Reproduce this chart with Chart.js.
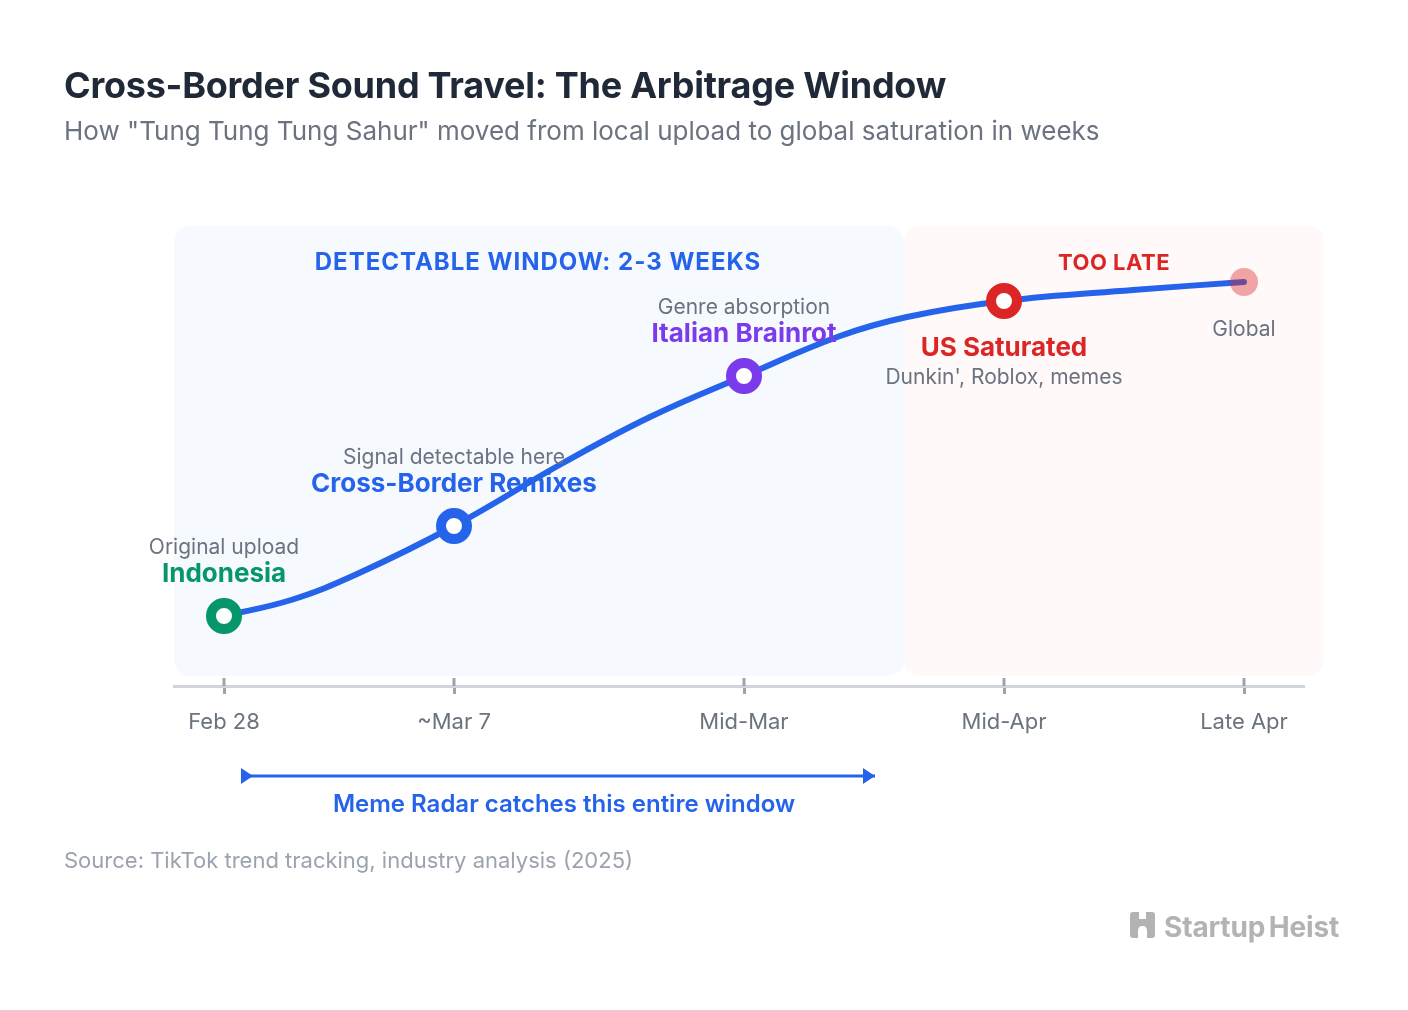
<!DOCTYPE html>
<html>
<head>
<meta charset="utf-8">
<title>Cross-Border Sound Travel</title>
<script src="https://cdn.jsdelivr.net/npm/chart.js@4/dist/chart.umd.js"></script>
<style>
    html, body { margin: 0; padding: 0; background: #fff; }
    body { width: 1408px; height: 1010px; position: relative; overflow: hidden; font-family: Inter, sans-serif; }
    canvas { position: absolute; left: 0; top: 0; }
    .txt { position: absolute; white-space: nowrap; line-height: 1; }
    #title { left: 64px; top: 67px; font-size: 36px; font-weight: 700; color: #1f2937; letter-spacing: -0.25px; }
    #subtitle { left: 64px; top: 118px; font-size: 26px; color: #6b7280; }
    #source { left: 64px; top: 849px; font-size: 22px; color: #9ca3af; }
    #brand { left: 1164px; top: 913px; font-size: 28px; font-weight: 700; color: #b3b3b3; word-spacing: -3px; letter-spacing: -0.15px; }
    #logo { position: absolute; left: 1130px; top: 912px; }
</style>
</head>
<body>
<canvas id="chart" width="1408" height="1010"></canvas>
<div class="txt" id="title">Cross-Border Sound Travel: The Arbitrage Window</div>
<div class="txt" id="subtitle">How "Tung Tung Tung Sahur" moved from local upload to global saturation in weeks</div>
<div class="txt" id="source">Source: TikTok trend tracking, industry analysis (2025)</div>
<svg id="logo" width="25" height="26" viewBox="0 0 25 26">
    <path fill="#b3b3b3" d="M3 0H9V7H16V0H22Q25 0 25 3V23Q25 26 22 26H17V19Q17 14 12.5 14Q8 14 8 19V26H3Q0 26 0 23V3Q0 0 3 0Z"/>
</svg>
<div class="txt" id="brand">Startup Heist</div>

<script>
// Dữ liệu
const tickValues = [5, 28, 57, 83, 107];
const tickLabels = ['Feb 28', '~Mar 7', 'Mid-Mar', 'Mid-Apr', 'Late Apr'];
const spreadValues = [7, 16, 31, 38.5, 40.4];
const curveX = [5, 11.7, 18.3, 28, 38.9, 47.6, 57, 66.6, 73.3, 83, 95.9, 107];
const curveY = [7, 8.6, 11.2, 16, 22.3, 26.9, 31, 35, 36.9, 38.5, 39.6, 40.4];
const mainLabels = ['Indonesia', 'Cross-Border Remixes', 'Italian Brainrot', 'US Saturated', ''];
const subLabels = ['Original upload', 'Signal detectable here', 'Genre absorption', "Dunkin', Roblox, memes", 'Global'];
const detectableRange = [0, 73];
const tooLateRange = [73, 115];
const regionLevels = [1, 46];
const arrowRange = [6.8, 70.1];
const arrowLevel = -9;
const detectableText = 'DETECTABLE WINDOW: 2-3 WEEKS';
const tooLateText = 'TOO LATE';
const arrowText = 'Meme Radar catches this entire window';

// Kiểu hiển thị
const markColors = ['#059669', '#2563eb', '#7c3aed', '#dc2626', 'rgba(220, 38, 38, 0.4)'];
const mainOffsets = [-42, -42, -42, 47, 0];
const subOffsets = [-68, -68, -68, 77, 48];
const FONT = 'Inter, sans-serif';

function label(ctx, text, x, y, font, color, spacing) {
    ctx.font = font;
    ctx.fillStyle = color;
    ctx.textAlign = 'center';
    ctx.textBaseline = 'middle';
    ctx.letterSpacing = spacing || '0px';
    ctx.fillText(text, x, y);
    ctx.letterSpacing = '0px';
}

function region(chart, range, color) {
    const { ctx, scales: { x, y } } = chart;
    const left = x.getPixelForValue(range[0]);
    const right = x.getPixelForValue(range[1]);
    const top = y.getPixelForValue(regionLevels[1]);
    const bottom = y.getPixelForValue(regionLevels[0]);
    ctx.fillStyle = color;
    ctx.beginPath();
    ctx.roundRect(left, top, right - left, bottom - top, 16);
    ctx.fill();
}

const windowPlugin = {
    id: 'windowPlugin',
    beforeDatasetsDraw(chart) {
        region(chart, tooLateRange, '#fff9f9');
        region(chart, detectableRange, '#f6faff');

        // Nửa trên của vạch chia trục
        const { ctx, scales: { x }, chartArea } = chart;
        ctx.save();
        ctx.strokeStyle = '#9ca3af';
        ctx.lineWidth = 3;
        tickValues.forEach(v => {
            const px = x.getPixelForValue(v);
            ctx.beginPath();
            ctx.moveTo(px, chartArea.bottom - 8);
            ctx.lineTo(px, chartArea.bottom);
            ctx.stroke();
        });
        ctx.restore();

        label(ctx, detectableText, 538, 263, '700 24px ' + FONT, '#2563eb', '1px');
        label(ctx, tooLateText, 1114, 263, '700 22px ' + FONT, '#dc2626', '0.5px');
    },
    afterDatasetsDraw(chart) {
        const { ctx, scales: { x, y } } = chart;
        const meta = chart.getDatasetMeta(0).data;
        meta.forEach((pt, i) => {
            if (mainLabels[i]) label(ctx, mainLabels[i], pt.x, pt.y + mainOffsets[i], '700 26px ' + FONT, markColors[i]);
            label(ctx, subLabels[i], pt.x, pt.y + subOffsets[i], '400 21px ' + FONT, '#6b7280');
        });

        // Mũi tên "Meme Radar"
        const x0 = x.getPixelForValue(arrowRange[0]);
        const x1 = x.getPixelForValue(arrowRange[1]);
        const ay = y.getPixelForValue(arrowLevel);
        ctx.save();
        ctx.strokeStyle = '#2563eb';
        ctx.fillStyle = '#2563eb';
        ctx.lineWidth = 3;
        ctx.beginPath();
        ctx.moveTo(x0, ay);
        ctx.lineTo(x1, ay);
        ctx.stroke();
        [x0 - 1, x1 - 12].forEach(ax => {
            ctx.beginPath();
            ctx.moveTo(ax, ay - 8);
            ctx.lineTo(ax + 12, ay);
            ctx.lineTo(ax, ay + 8);
            ctx.closePath();
            ctx.fill();
        });
        ctx.restore();
        label(ctx, arrowText, (x0 + x1) / 2 + 5.5, ay + 29, '600 24px ' + FONT, '#2563eb');
    }
};

new Chart(document.getElementById('chart'), {
    type: 'line',
    data: {
        datasets: [{
            // Các mốc
            data: tickValues.map((v, i) => ({ x: v, y: spreadValues[i] })),
            showLine: false,
            clip: false,
            pointRadius: [13, 13, 13, 13, 14],
            pointBorderWidth: [10, 10, 10, 10, 0],
            pointBorderColor: markColors,
            pointBackgroundColor: ['#fff', '#fff', '#fff', '#fff', markColors[4]]
        }, {
            // Đường cong lan truyền
            data: curveX.map((v, i) => ({ x: v, y: curveY[i] })),
            borderColor: '#2563eb',
            borderWidth: 6,
            borderCapStyle: 'round',
            tension: 0.4,
            clip: false,
            pointRadius: 0
        }]
    },
    options: {
        responsive: false,
        animation: false,
        layout: { padding: { left: 174, right: 104, top: 226, bottom: 264 } },
        plugins: { legend: { display: false }, tooltip: { enabled: false } },
        scales: {
            x: {
                type: 'linear',
                min: 0,
                max: 113,
                afterBuildTicks: scale => { scale.ticks = tickValues.map(value => ({ value })); },
                afterFit: scale => { scale.height = 60; },
                grid: { drawOnChartArea: false, tickLength: 8, tickColor: '#9ca3af', tickWidth: 3 },
                border: { color: '#d1d5db', width: 3 },
                ticks: {
                    autoSkip: false,
                    maxRotation: 0,
                    padding: 15,
                    color: '#6b7280',
                    font: { family: 'Inter', size: 22 },
                    callback: (value, i) => tickLabels[i]
                }
            },
            y: { display: false, min: 0, max: 46 }
        }
    },
    plugins: [windowPlugin]
});
</script>
</body>
</html>
